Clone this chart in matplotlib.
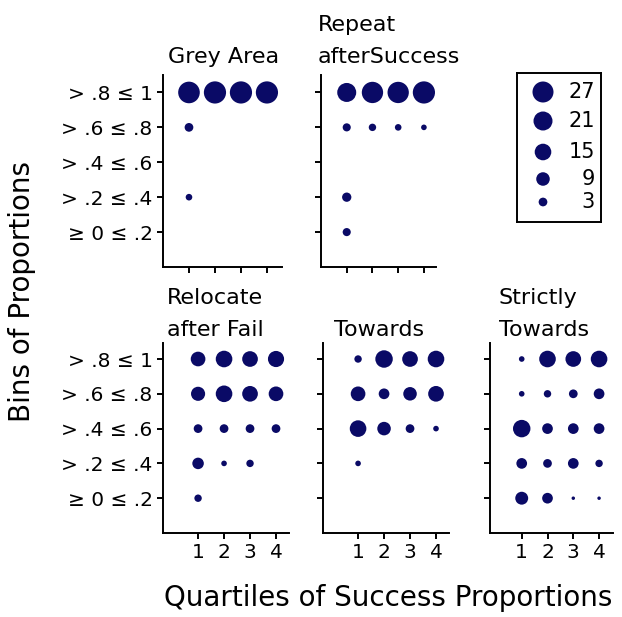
import matplotlib
matplotlib.use("Agg")
import matplotlib.pyplot as plt
import numpy as np

plt.rcParams['font.family'] = ['DejaVu Sans']

# ---------------- data ----------------
quartiles = [1, 2, 3, 4]
bin_labels = ["> .8 \u2264 1", "> .6 \u2264 .8", "> .4 \u2264 .6", "> .2 \u2264 .4", "\u2265 0 \u2264 .2"]  # top -> bottom
legend_values = [27, 21, 15, 9, 3]

# rows: top bin (> .8 <= 1) to bottom bin (>= 0 <= .2); columns: quartile 1..4
grey_area = [[29, 31, 31, 31],
             [3, 0, 0, 0],
             [0, 0, 0, 0],
             [1.5, 0, 0, 0],
             [0, 0, 0, 0]]
repeat_after_success = [[21, 28, 28, 31],
                        [2.5, 2, 1.5, 1],
                        [0, 0, 0, 0],
                        [3.5, 0, 0, 0],
                        [2.5, 0, 0, 0]]
relocate_after_fail = [[11, 15, 13, 14],
                       [10, 15, 13, 11],
                       [3, 3, 3, 3],
                       [6, 1, 2, 0],
                       [2, 0, 0, 0]]
towards = [[2, 17, 13, 15],
           [11, 5, 9, 13],
           [15, 9, 3, 1],
           [1, 0, 0, 0],
           [0, 0, 0, 0]]
strictly_towards = [[1, 15, 13, 15],
                    [1, 2, 3, 5],
                    [17, 5, 5, 5],
                    [5, 3, 5, 2],
                    [8, 5, 0.3, 0.3]]

titles = {
    "grey": ["Grey Area"],
    "repeat": ["Repeat", "afterSuccess"],
    "relocate": ["Relocate", "after Fail"],
    "towards": ["Towards"],
    "strictly": ["Strictly", "Towards"],
}

# ---------------- style ----------------
W, H = 622, 617
DOT = '#0a0a66'
fig = plt.figure(figsize=(W / 100, H / 100), dpi=100)


def rect(l, t, r, b):
    return [l / W, 1 - b / H, (r - l) / W, (b - t) / H]


def size_of(n):
    d_px = 21.0 * (np.asarray(n, dtype=float) / 27.0) ** 0.4
    d_pt = d_px * 72 / 100
    return d_pt ** 2


def style_axes(ax, xlim, ylim, ylabels, xlabels):
    ax.set_xlim(*xlim)
    ax.set_ylim(*ylim)
    for s in ['top', 'right']:
        ax.spines[s].set_visible(False)
    for s in ['left', 'bottom']:
        ax.spines[s].set_linewidth(1.4)
    ax.set_xticks(quartiles)
    ax.set_yticks([5, 4, 3, 2, 1])
    ax.tick_params(direction='out', length=4.5, width=1.4, labelsize=14.5, pad=3)
    if ylabels:
        ax.set_yticklabels(bin_labels)
    else:
        ax.set_yticklabels([])
    if xlabels:
        ax.set_xticklabels([str(q) for q in quartiles])
    else:
        ax.set_xticklabels([])


def draw(ax, data):
    arr = np.array(data, dtype=float)
    xs, ys, ns = [], [], []
    for i in range(arr.shape[0]):
        for j in range(arr.shape[1]):
            if arr[i, j] > 0:
                xs.append(quartiles[j])
                ys.append(5 - i)
                ns.append(arr[i, j])
    ax.scatter(xs, ys, s=size_of(ns), c=DOT, linewidths=0, zorder=3, clip_on=False)


panels = [
    ("grey", grey_area, (163, 75, 282, 267), (0, 4.58), (0, 5.5), True, False),
    ("repeat", repeat_after_success, (321, 75, 436, 267), (0, 4.47), (0, 5.5), False, False),
    ("relocate", relocate_after_fail, (163, 343, 289, 533), (-0.35, 4.5), (0, 5.46), True, True),
    ("towards", towards, (323, 343, 449, 533), (-0.35, 4.5), (0, 5.46), False, True),
    ("strictly", strictly_towards, (490, 343, 613, 533), (-0.23, 4.54), (0, 5.46), False, True),
]

for key, data, r, xl, yl, ylab, xlab in panels:
    ax = fig.add_axes(rect(*r))
    style_axes(ax, xl, yl, ylab, xlab)
    draw(ax, data)

# titles (placed as figure text, baseline in px)
title_pos = {
    "grey": (224, [63], 'center'),
    "repeat": (318, [31, 63], 'left'),
    "relocate": (167, [304, 336], 'left'),
    "towards": (334, [336], 'left'),
    "strictly": (499, [304, 336], 'left'),
}
for key, (x, ys, ha) in title_pos.items():
    for line, y in zip(titles[key], ys):
        fig.text(x / W, 1 - y / H, line, ha=ha, va='baseline', fontsize=16)

# axis labels
fig.text(22 / W, 1 - 292 / H, "Bins of Proportions", rotation=90, ha='center', va='center', fontsize=20)
fig.text(388 / W, 1 - 598 / H, "Quartiles of Success Proportions", ha='center', va='center', fontsize=20)

# size legend
lax = fig.add_axes(rect(517, 73, 601, 222))
lax.set_xlim(517, 601)
lax.set_ylim(222, 73)
lax.set_xticks([])
lax.set_yticks([])
for s in lax.spines.values():
    s.set_linewidth(1.4)
leg_y = [92, 121, 152, 179, 202]
lax.scatter([543] * len(legend_values), leg_y, s=size_of(legend_values), c=DOT, linewidths=0)
for v, y in zip(legend_values, leg_y):
    lax.text(595, y, str(v), ha='right', va='center', fontsize=15)

fig.savefig("out.png", dpi=100)
